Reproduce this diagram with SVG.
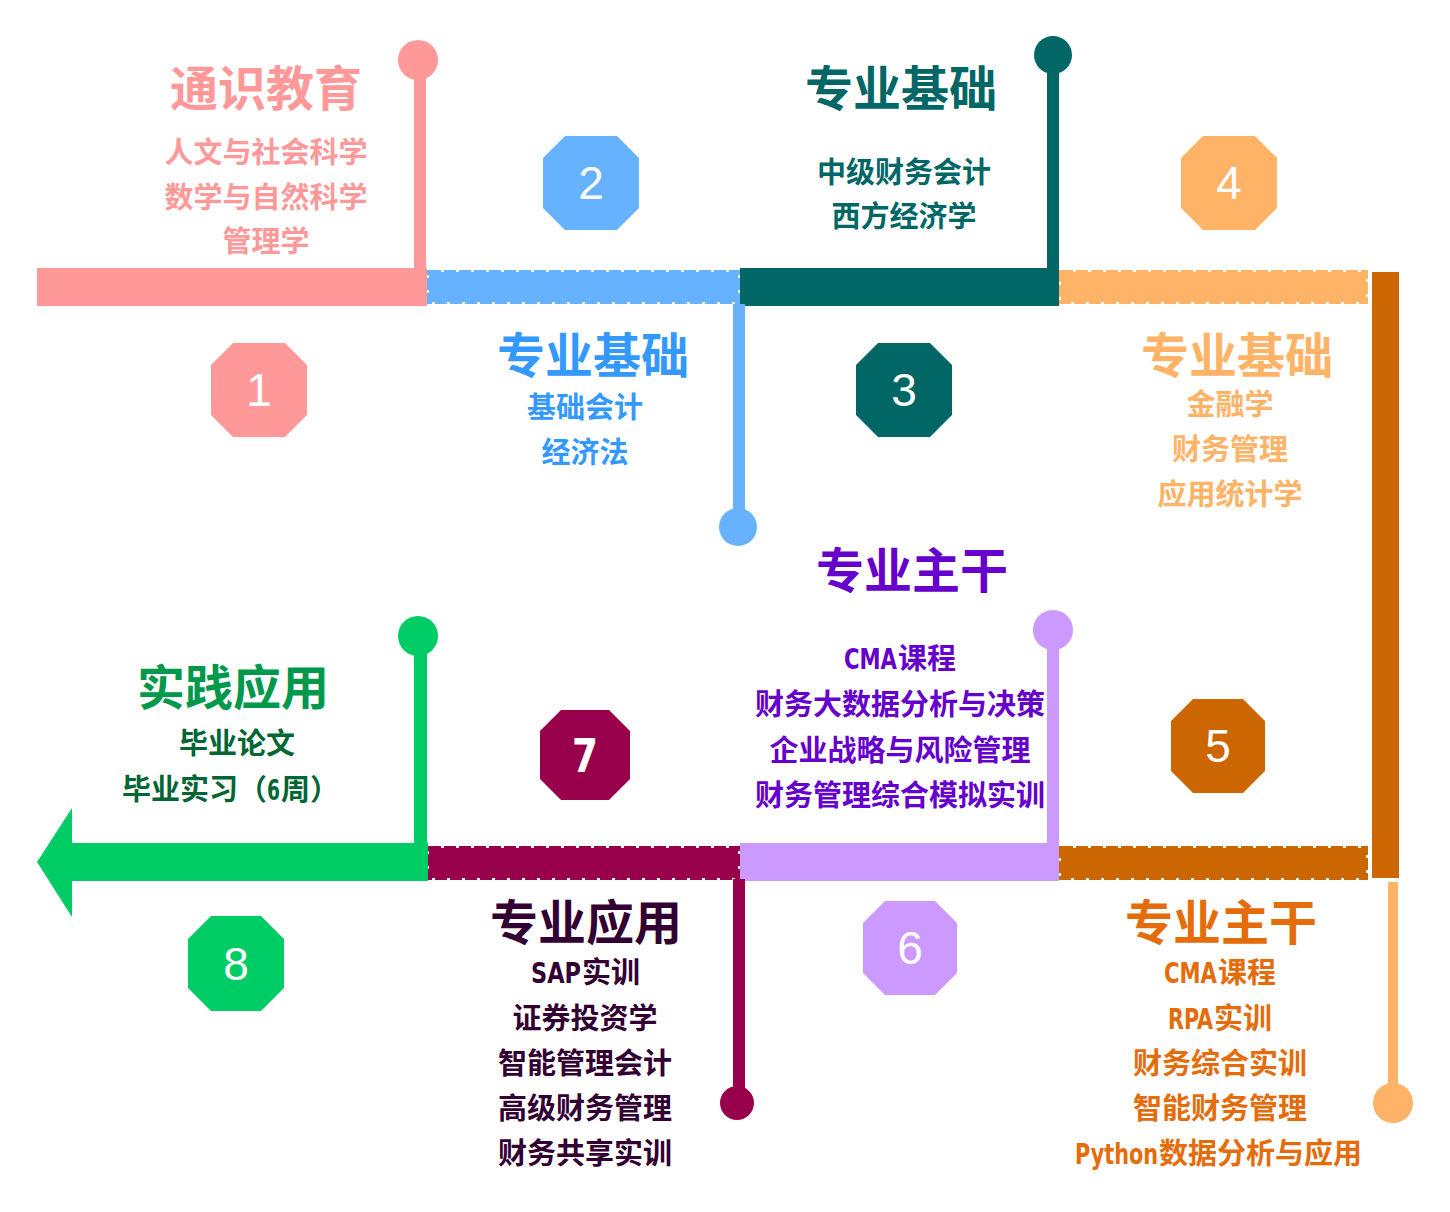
<svg xmlns="http://www.w3.org/2000/svg" width="1450" height="1212" viewBox="0 0 1450 1212">
<style>
.t{font-family:"Noto Sans CJK SC","Noto Sans",sans-serif;font-weight:700;font-size:48px;text-anchor:middle}
.i{font-family:"Noto Sans CJK SC","Noto Sans",sans-serif;font-weight:700;font-size:29px;text-anchor:middle}
.s{text-anchor:start}
.n{font-family:"Liberation Sans","DejaVu Sans",sans-serif;font-size:46px;fill:#fff;text-anchor:middle}
.lat{font-family:"DejaVu Sans",sans-serif;font-weight:900;font-stretch:condensed;font-size:29px;text-anchor:start}
</style>
<rect width="1450" height="1212" fill="#fff"/>
<g id="connectors">
  <rect x="37" y="268" width="390" height="38" fill="#FF9999"/>
  <rect x="429" y="272" width="309" height="30" fill="#66B2FF" stroke="#66B2FF" stroke-width="4" stroke-dasharray="12 3"/>
  <rect x="740" y="268" width="319" height="38" fill="#006666"/>
  <rect x="1061" y="272" width="305" height="30" fill="#FFB366" stroke="#FFB366" stroke-width="4" stroke-dasharray="12 3"/>
  <rect x="1372" y="272" width="27" height="606" fill="#CC6600"/>
  <rect x="1061" y="848" width="305" height="30" fill="#CC6600" stroke="#CC6600" stroke-width="4" stroke-dasharray="12 3"/>
  <rect x="740" y="843" width="319" height="38" fill="#CC99FF"/>
  <rect x="429" y="848" width="309" height="30" fill="#99004C" stroke="#99004C" stroke-width="4" stroke-dasharray="12 3"/>
  <polygon points="428,843 72,843 72,808 37,862 72,917 72,881 428,881" fill="#00CC66"/>
</g>
<g id="stage1">
  <rect x="414" y="60" width="12" height="210" fill="#FF9999"/>
  <circle cx="418" cy="60" r="20" fill="#FF9999"/>
  <polygon points="233,343 285,343 307,365 307,415 285,437 233,437 211,415 211,365" fill="#FF9999"/>
  <text class="n" x="259" y="406">1</text>
  <text class="t" x="266" y="106" fill="#FF9999">通识教育</text>
  <text class="i" x="266" y="163" fill="#FF9999">人文与社会科学</text>
  <text class="i" x="266" y="208" fill="#FF9999">数学与自然科学</text>
  <text class="i" x="266" y="252" fill="#FF9999">管理学</text>
</g>
<g id="stage2">
  <rect x="733" y="304" width="12" height="223" fill="#66B2FF"/>
  <circle cx="738" cy="527" r="19" fill="#66B2FF"/>
  <polygon points="565,136 617,136 639,158 639,208 617,230 565,230 543,208 543,158" fill="#66B2FF"/>
  <text class="n" x="591" y="199">2</text>
  <text class="t" x="593" y="373" fill="#3399FF">专业基础</text>
  <text class="i" x="585" y="418" fill="#3399FF">基础会计</text>
  <text class="i" x="585" y="463" fill="#3399FF">经济法</text>
</g>
<g id="stage3">
  <rect x="1047" y="55" width="12" height="215" fill="#006666"/>
  <circle cx="1053" cy="55" r="19" fill="#006666"/>
  <polygon points="878,343 930,343 952,365 952,415 930,437 878,437 856,415 856,365" fill="#006666"/>
  <text class="n" x="904" y="406">3</text>
  <text class="t" x="901" y="106" fill="#006666">专业基础</text>
  <text class="i" x="904" y="183" fill="#006666">中级财务会计</text>
  <text class="i" x="904" y="227" fill="#006666">西方经济学</text>
</g>
<g id="stage4">
  <polygon points="1203,136 1255,136 1277,158 1277,208 1255,230 1203,230 1181,208 1181,158" fill="#FFB366"/>
  <text class="n" x="1229" y="199">4</text>
  <text class="t" x="1237" y="373" fill="#FFB366">专业基础</text>
  <text class="i" x="1230" y="415" fill="#FFB366">金融学</text>
  <text class="i" x="1230" y="460" fill="#FFB366">财务管理</text>
  <text class="i" x="1230" y="505" fill="#FFB366">应用统计学</text>
</g>
<g id="stage5">
  <rect x="1388" y="882" width="10" height="221" fill="#FFB366"/>
  <circle cx="1393" cy="1103" r="20" fill="#FFB366"/>
  <polygon points="1193,699 1243,699 1265,721 1265,771 1243,793 1193,793 1171,771 1171,721" fill="#CC6600"/>
  <text class="n" x="1218" y="762">5</text>
  <text class="t" x="1221" y="940" fill="#E46C0A">专业主干</text>
  <text class="lat" x="1164" y="983" fill="#E46C0A" textLength="53" lengthAdjust="spacingAndGlyphs">CMA</text>
  <text class="i s" x="1218" y="983" fill="#E46C0A">课程</text>
  <text class="lat" x="1168" y="1029" fill="#E46C0A" textLength="45" lengthAdjust="spacingAndGlyphs">RPA</text>
  <text class="i s" x="1214" y="1029" fill="#E46C0A">实训</text>
  <text class="i" x="1220" y="1074" fill="#E46C0A">财务综合实训</text>
  <text class="i" x="1220" y="1119" fill="#E46C0A">智能财务管理</text>
  <text class="lat" x="1075" y="1164" fill="#E46C0A" textLength="83" lengthAdjust="spacingAndGlyphs">Python</text>
  <text class="i s" x="1159" y="1164" fill="#E46C0A">数据分析与应用</text>
</g>
<g id="stage6">
  <rect x="1047" y="630" width="12" height="215" fill="#CC99FF"/>
  <circle cx="1053" cy="630" r="20" fill="#CC99FF"/>
  <polygon points="885,901 935,901 957,923 957,973 935,995 885,995 863,973 863,923" fill="#CC99FF"/>
  <text class="n" x="910" y="964">6</text>
  <text class="t" x="912" y="588" fill="#6600CC">专业主干</text>
  <text class="lat" x="844" y="669" fill="#6600CC" textLength="53" lengthAdjust="spacingAndGlyphs">CMA</text>
  <text class="i s" x="898" y="669" fill="#6600CC">课程</text>
  <text class="i" x="900" y="715" fill="#6600CC">财务大数据分析与决策</text>
  <text class="i" x="900" y="761" fill="#6600CC">企业战略与风险管理</text>
  <text class="i" x="900" y="806" fill="#6600CC">财务管理综合模拟实训</text>
</g>
<g id="stage7">
  <rect x="733" y="879" width="12" height="224" fill="#99004C"/>
  <circle cx="737" cy="1103" r="17" fill="#99004C"/>
  <polygon points="561,710 609,710 630,731 630,779 609,800 561,800 540,779 540,731" fill="#99004C"/>
  <text x="585" y="772" font-family="DejaVu Sans,sans-serif" font-weight="900" font-stretch="condensed" font-size="46" fill="#fff" text-anchor="middle" textLength="26" lengthAdjust="spacingAndGlyphs">7</text>
  <text class="t" x="586" y="940" fill="#330033">专业应用</text>
  <text class="lat" x="531" y="983" fill="#330033" textLength="50" lengthAdjust="spacingAndGlyphs">SAP</text>
  <text class="i s" x="582" y="983" fill="#330033">实训</text>
  <text class="i" x="585" y="1029" fill="#330033">证券投资学</text>
  <text class="i" x="585" y="1074" fill="#330033">智能管理会计</text>
  <text class="i" x="585" y="1119" fill="#330033">高级财务管理</text>
  <text class="i" x="585" y="1164" fill="#330033">财务共享实训</text>
</g>
<g id="stage8">
  <rect x="414" y="636" width="13" height="209" fill="#00CC66"/>
  <circle cx="418" cy="636" r="20" fill="#00CC66"/>
  <polygon points="211,916 261,916 284,939 284,988 261,1011 211,1011 188,988 188,939" fill="#00CC66"/>
  <text class="n" x="236" y="980">8</text>
  <text class="t" x="233" y="705" fill="#00994C">实践应用</text>
  <text class="i" x="237" y="754" fill="#006633">毕业论文</text>
  <text class="i s" x="122" y="800" fill="#006633">毕业实习（</text>
  <text class="lat" x="267" y="800" fill="#006633" textLength="13" lengthAdjust="spacingAndGlyphs">6</text>
  <text class="i s" x="281" y="800" fill="#006633">周）</text>
</g>
</svg>
